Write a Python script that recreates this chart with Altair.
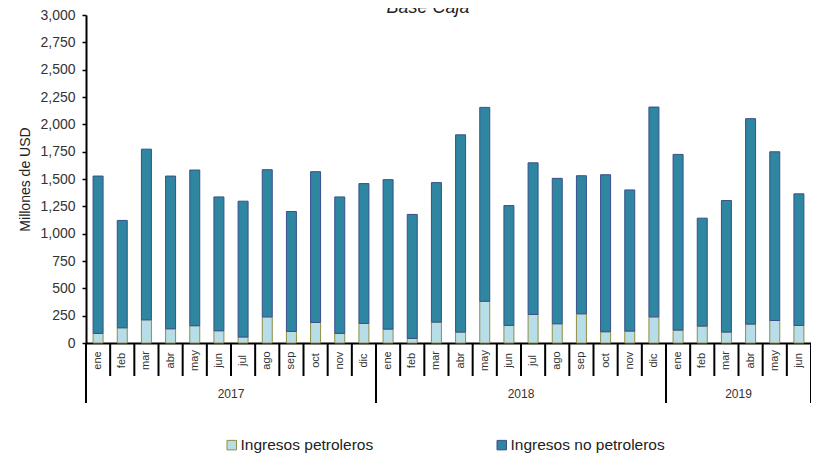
import altair as alt
import pandas as pd

# ---- data -------------------------------------------------------------
meses = ["ene", "feb", "mar", "abr", "may", "jun", "jul", "ago", "sep", "oct", "nov", "dic"]
anios = ["2017", "2018", "2019"]
meses_por_anio = [12, 12, 6]

petroleros_2017 = [88, 139, 212, 130, 158, 112, 55, 239, 106, 188, 88, 179]
petroleros_2018 = [127, 42, 191, 100, 382, 161, 261, 176, 267, 103, 109, 239]
petroleros_2019 = [118, 155, 100, 173, 206, 161]

no_petroleros_2017 = [1439, 982, 1561, 1397, 1424, 1224, 1242, 1346, 1097, 1379, 1248, 1279]
no_petroleros_2018 = [1367, 1134, 1276, 1804, 1773, 1096, 1387, 1330, 1263, 1436, 1291, 1919]
no_petroleros_2019 = [1607, 987, 1203, 1879, 1543, 1203]

series = ["Ingresos petroleros", "Ingresos no petroleros"]
fills = ["#b7dde8", "#2e86a0"]
strokes = ["#8f8f45", "#3a4f8c"]

titulo = "Base Caja"
eje_y = "Millones de USD"
y_ticks = list(range(0, 3001, 250))

# ---- tables -------------------------------------------------------------
pet = [petroleros_2017, petroleros_2018, petroleros_2019]
nopet = [no_petroleros_2017, no_petroleros_2018, no_petroleros_2019]

rows, keys, year_start, year_mid = [], [], [], []
for a, n, p_list, np_list in zip(anios, meses_por_anio, pet, nopet):
    for i in range(n):
        k = f"{meses[i]}|{a}"
        keys.append(k)
        if i == 0:
            year_start.append(k)
        if i == n // 2:
            year_mid.append({"key": k, "anio": a})
        rows.append({"key": k, "serie": series[0], "valor": p_list[i], "orden": 0})
        rows.append({"key": k, "serie": series[1], "valor": np_list[i], "orden": 1})

df = pd.DataFrame(rows)
sep_df = pd.DataFrame({"key": keys})
end_df = pd.DataFrame({"key": [keys[-1]]})
ystart_df = pd.DataFrame({"key": year_start})
ymid_df = pd.DataFrame(year_mid)
title_df = pd.DataFrame({"t": [titulo]})

FONT = "Liberation Sans"
H = 328  # plot height

legend = alt.Legend(
    title=None, orient="none", legendX=138, legendY=422, direction="horizontal",
    symbolType="square", symbolSize=90, symbolStrokeWidth=1,
    labelFontSize=15.5, labelFont=FONT, labelColor="#222222",
    columnPadding=120, labelOffset=1,
)

x_main = alt.X(
    "key:N", sort=keys, title=None,
    scale=alt.Scale(paddingInner=0, paddingOuter=0),
    axis=alt.Axis(
        labelExpr="split(datum.label, '|')[0]", labelAngle=270,
        labelAlign="center", labelBaseline="middle", labelPadding=17,
        ticks=False, domainColor="black", domainWidth=2,
        labelFontSize=11, labelFont=FONT, labelColor="#333333",
        labelOverlap=False,
    ),
)

bars = alt.Chart(df).mark_bar(size=10, strokeWidth=1).encode(
    x=x_main,
    y=alt.Y(
        "valor:Q", stack="zero",
        scale=alt.Scale(domain=[0, 3000], nice=False),
        axis=alt.Axis(
            values=y_ticks, format=",.0f", title=eje_y,
            tickSize=4, tickWidth=1.5, tickColor="black",
            domainColor="black", domainWidth=2,
            labelFontSize=14, labelFont=FONT, labelColor="#333333", labelPadding=7,
            titleFontSize=14, titleFont=FONT, titleColor="#222222",
            titleFontWeight="normal", titlePadding=7,
        ),
    ),
    fill=alt.Fill("serie:N", scale=alt.Scale(domain=series, range=fills), legend=legend),
    stroke=alt.Stroke("serie:N", scale=alt.Scale(domain=series, range=strokes), legend=legend),
    order=alt.Order("orden:Q"),
)

xs = lambda bp: alt.X("key:N", sort=keys, bandPosition=bp)

month_sep = alt.Chart(sep_df).mark_rule(color="black", strokeWidth=2).encode(
    x=xs(0), y=alt.value(H), y2=alt.value(H + 33)
)
month_end = alt.Chart(end_df).mark_rule(color="black", strokeWidth=2).encode(
    x=xs(1), y=alt.value(H), y2=alt.value(H + 60)
)
year_sep = alt.Chart(ystart_df).mark_rule(color="black", strokeWidth=2).encode(
    x=xs(0), y=alt.value(H), y2=alt.value(H + 60)
)
year_txt = alt.Chart(ymid_df).mark_text(
    fontSize=12, font=FONT, color="#333333", baseline="middle", align="center"
).encode(x=xs(0), y=alt.value(H + 51), text="anio:N")

title_txt = alt.Chart(title_df).mark_text(
    fontSize=18, font=FONT, fontStyle="italic", color="#222222",
    align="center", baseline="alphabetic",
).encode(x=alt.value(342), y=alt.value(-2), text="t:N")

chart = alt.layer(bars, month_sep, month_end, year_sep, year_txt, title_txt).properties(
    width=725, height=H,
    padding={"left": 78, "top": 7, "right": 0, "bottom": 110},
    autosize=alt.AutoSizeParams(type="none"),
    background="white",
).configure_view(stroke=None).configure_axis(grid=False)

chart.save("out.html", embed_options={"renderer": "svg", "actions": False})
